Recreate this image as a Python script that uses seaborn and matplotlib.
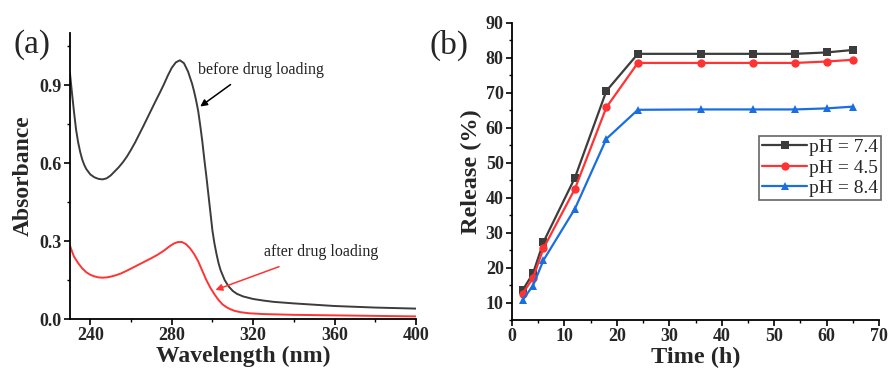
import numpy as np
import pandas as pd
import matplotlib
matplotlib.use('Agg')
import matplotlib.pyplot as plt
import seaborn as sns
from matplotlib.ticker import MultipleLocator

# (a) UV-vis spectra
wl_before = [230, 231, 232, 233, 234, 235, 236, 237, 238, 240, 242, 244, 246, 248, 250, 252, 254,
             256, 258, 260, 262, 264, 266, 268, 270, 272, 274, 276, 278, 280, 282, 284, 286, 288,
             290, 291, 292, 293, 294, 295, 296, 297, 298, 299, 300, 301, 302, 303, 304, 306, 308,
             310, 312, 315, 320, 325, 330, 340, 350, 360, 370, 380, 390, 400]
abs_before = [0.945, 0.868, 0.795, 0.728, 0.68, 0.643, 0.614, 0.593, 0.577, 0.556, 0.545, 0.539, 0.537,
              0.541, 0.552, 0.568, 0.584, 0.603, 0.625, 0.651, 0.679, 0.71, 0.741, 0.773, 0.805,
              0.837, 0.868, 0.9, 0.935, 0.966, 0.987, 0.995, 0.984, 0.952, 0.905, 0.875, 0.84,
              0.80, 0.745, 0.685, 0.615, 0.55, 0.48, 0.41, 0.34, 0.29, 0.25, 0.215, 0.188, 0.15,
              0.125, 0.108, 0.097, 0.087, 0.077, 0.071, 0.066, 0.06, 0.055, 0.05, 0.047, 0.044,
              0.042, 0.04]

wl_after = [230, 231, 232, 234, 236, 238, 240, 242, 244, 246, 248, 250, 252, 255, 258, 261, 264,
            267, 270, 273, 276, 279, 281, 283, 285, 287, 289, 291, 293, 295, 297, 299, 301, 303,
            305, 307, 309, 311, 314, 318, 325, 340, 360, 380, 400]
abs_after = [0.282, 0.26, 0.24, 0.215, 0.195, 0.18, 0.17, 0.164, 0.16, 0.159, 0.16, 0.163, 0.167,
             0.175, 0.186, 0.198, 0.21, 0.222, 0.234, 0.247, 0.262, 0.28, 0.29, 0.296, 0.296,
             0.288, 0.272, 0.25, 0.222, 0.186, 0.15, 0.12, 0.095, 0.073, 0.056, 0.045, 0.037,
             0.031, 0.026, 0.022, 0.019, 0.016, 0.014, 0.012, 0.01]

# (b) release curves
tiempo = [2, 4, 6, 12, 18, 24, 36, 46, 54, 60, 65]
ph74 = [13.5, 18.3, 27.3, 45.7, 70.5, 81.1, 81.1, 81.1, 81.1, 81.5, 82.2]
ph45 = [12.5, 17.0, 25.5, 42.5, 65.8, 78.5, 78.5, 78.5, 78.5, 78.9, 79.4]
ph84 = [10.7, 14.8, 22.1, 36.8, 56.8, 65.1, 65.2, 65.2, 65.2, 65.5, 66.0]

c_black = '#3c3c3c'
c_red = '#ff3333'
c_blue = '#1a6fe0'

sns.set_style('ticks')
plt.rcParams['font.family'] = 'serif'
plt.rcParams['font.serif'] = ['Liberation Serif', 'DejaVu Serif']

fig = plt.figure(figsize=(8.88, 3.79), dpi=100)
ax1 = fig.add_axes([0.0788, 0.1583, 0.3896, 0.7546])
ax2 = fig.add_axes([0.5766, 0.1557, 0.4133, 0.7844])

# ---- panel a
sns.lineplot(x=wl_before, y=abs_before, ax=ax1, color=c_black, lw=1.4)
sns.lineplot(x=wl_after, y=abs_after, ax=ax1, color=c_red, lw=1.4)
ax1.set_xlim(230, 400)
ax1.set_ylim(0, 1.1)
ax1.xaxis.set_major_locator(MultipleLocator(40))
ax1.xaxis.set_minor_locator(MultipleLocator(20))
ax1.yaxis.set_minor_locator(MultipleLocator(0.15))
ax1.set_yticks([0.0, 0.3, 0.6, 0.9])
ax1.set_yticklabels(['0.0', '0.3', '0.6', '0.9'])
ax1.set_xlabel('Wavelength (nm)', fontsize=17, fontweight='bold', labelpad=1)
ax1.set_ylabel('Absorbance', fontsize=17, fontweight='bold', labelpad=4)

ax1.text(293, 0.957, 'before drug loading', fontsize=11.5, color='#222222', va='center', ha='left')
ax1.annotate('', xy=(292.9, 0.811), xytext=(310, 0.908),
             arrowprops=dict(arrowstyle='-|>', color='black', lw=1.1, mutation_scale=10))
ax1.text(325.4, 0.258, 'after drug loading', fontsize=11.5, color='#222222', va='center', ha='left')
ax1.annotate('', xy=(300.2, 0.108), xytext=(334, 0.205),
             arrowprops=dict(arrowstyle='-|>', color=c_red, lw=1.1, mutation_scale=10))

# ---- panel b
df = pd.DataFrame({'t': tiempo * 3,
                   'rel': ph74 + ph45 + ph84,
                   'grupo': ['pH = 7.4'] * 11 + ['pH = 4.5'] * 11 + ['pH = 8.4'] * 11})
sns.lineplot(data=df, x='t', y='rel', hue='grupo', style='grupo', ax=ax2,
             palette=[c_black, c_red, c_blue], markers=['s', 'o', '^'], dashes=False,
             lw=1.6, markersize=6, markeredgewidth=0)
ax2.set_xlim(0, 70)
ax2.set_ylim(5, 90)
ax2.xaxis.set_major_locator(MultipleLocator(10))
ax2.xaxis.set_minor_locator(MultipleLocator(5))
ax2.yaxis.set_minor_locator(MultipleLocator(5))
ax2.set_yticks(range(10, 91, 10))
ax2.set_xlabel('Time (h)', fontsize=17.5, fontweight='bold', labelpad=1)
ax2.set_ylabel('Release (%)', fontsize=17.5, fontweight='bold', labelpad=3)
leg = ax2.legend(loc='upper right', bbox_to_anchor=(1.005, 0.62), borderaxespad=0,
                 fontsize=14, handlelength=2.3, labelspacing=0.15, handletextpad=0.1,
                 borderpad=0.15, fancybox=False, framealpha=1)
leg.get_frame().set_edgecolor('#666666')
leg.get_frame().set_linewidth(1.2)

for ax in (ax1, ax2):
    sns.despine(ax=ax)
    ax.spines['left'].set_linewidth(1.3)
    ax.spines['bottom'].set_linewidth(1.3)
    ax.spines['left'].set_color('black')
    ax.spines['bottom'].set_color('black')
    ax.tick_params(which='major', direction='out', length=4, width=1.2, labelsize=13,
                   color='black', pad=2)
    ax.tick_params(which='minor', direction='out', length=2.5, width=1.0, color='black')
    for lab in ax.get_xticklabels() + ax.get_yticklabels():
        lab.set_fontweight('bold')

fig.text(0.015, 0.881, '(a)', fontsize=24, va='center', ha='left')
fig.text(0.484, 0.881, '(b)', fontsize=24, va='center', ha='left')

fig.savefig('out.png', dpi=100)
